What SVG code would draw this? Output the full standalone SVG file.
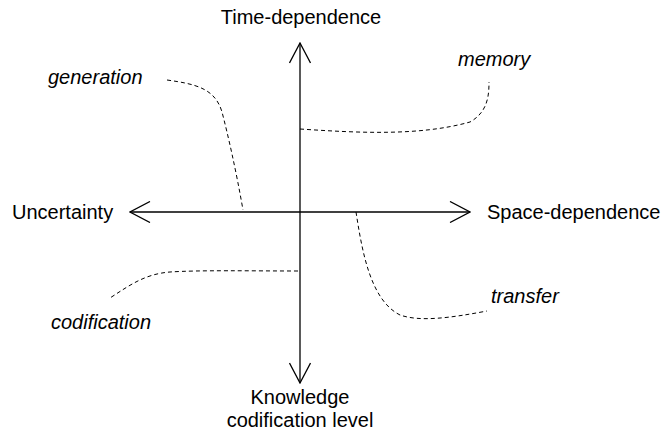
<svg xmlns="http://www.w3.org/2000/svg" width="665" height="434" viewBox="0 0 665 434">
  <style>
    text { font-family: "Liberation Sans", Arial, sans-serif; font-size: 20px; fill: #000; }
    .it { font-style: italic; }
    .axis { stroke: #000; stroke-width: 1.3; fill: none; }
    .dash { stroke: #000; stroke-width: 1; fill: none; stroke-dasharray: 4 3; }
  </style>
  <defs>
    <marker id="open" viewBox="0 0 22 22" refX="21" refY="11" markerWidth="22" markerHeight="22" markerUnits="userSpaceOnUse" orient="auto-start-reverse">
      <path d="M1,0.5 L21,11 L1,21.5" fill="none" stroke="#000" stroke-width="1.3"/>
    </marker>
  </defs>
  <rect width="665" height="434" fill="#fff"/>
  <g id="connectors">
    <line class="axis" x1="130" y1="212" x2="470" y2="212" marker-start="url(#open)" marker-end="url(#open)"/>
    <line class="axis" x1="300" y1="43" x2="300" y2="383" marker-start="url(#open)" marker-end="url(#open)"/>
    <path class="dash" d="M167,80 C195,84 215,88 222,112 C228,135 236,170 243,210"/>
    <path class="dash" d="M300,129 C360,133 420,136 470,122 C488,112 489,95 489,82"/>
    <path class="dash" d="M356,212 C362,250 370,300 400,315 C420,322 450,318 487,311"/>
    <path class="dash" d="M298,271 C250,271 200,270 170,272 C145,274 130,285 110,298"/>
  </g>
  <g id="time-dependence"><text x="301" y="24" text-anchor="middle">Time-dependence</text></g>
  <g id="uncertainty"><text x="12" y="219">Uncertainty</text></g>
  <g id="space-dependence"><text x="487" y="219">Space-dependence</text></g>
  <g id="knowledge"><text x="300" y="404" text-anchor="middle">Knowledge</text><text x="300" y="427" text-anchor="middle">codification level</text></g>
  <g id="generation"><text class="it" x="48" y="84">generation</text></g>
  <g id="memory"><text class="it" x="458" y="66">memory</text></g>
  <g id="codification"><text class="it" x="51" y="329">codification</text></g>
  <g id="transfer"><text class="it" x="491" y="303">transfer</text></g>
</svg>
